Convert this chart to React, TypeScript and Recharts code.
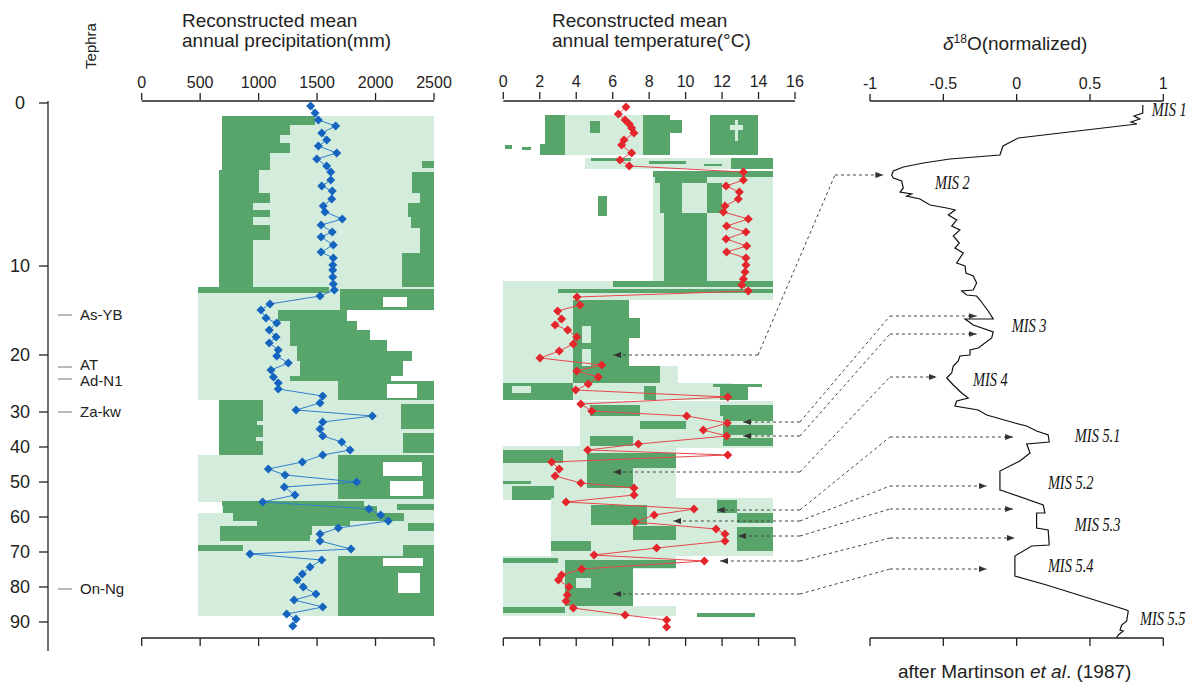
import React from "react";
import {
  ComposedChart,
  ReferenceArea,
  ReferenceLine,
  Scatter,
  XAxis,
  YAxis
} from "recharts";

// vertical axis: position down the core (arbitrary depth units), ages placed on it
const ageTickDepths = [0, 163, 252, 309, 344, 379, 414, 449, 484, 519];
const ageTickLabels = ["0", "10", "20", "30", "40", "50", "60", "70", "80", "90"];

const tephraDepths = [212, 264, 276, 309, 486];
const tephraNames = ["As-YB", "AT", "Ad-N1", "Za-kw", "On-Ng"];

const precipTicks = [0, 500, 1000, 1500, 2000, 2500];
const tempTicks = [0, 2, 4, 6, 8, 10, 12, 14, 16];
const deltaTicks = [-1, -0.5, 0, 0.5, 1];

const precipDepths = [
  3, 10, 17, 23, 30, 37, 43, 50, 56, 63, 69, 77, 83, 88, 96, 103, 109, 116, 122, 129,
  134, 142, 149, 155, 162, 167, 174, 181, 187, 193, 201, 207, 215, 220, 227, 234, 240, 247, 253, 260,
  267, 274, 280, 286, 293, 300, 307, 313, 319, 326, 333, 339, 347, 352, 359, 366, 372, 379, 384, 392,
  399, 406, 412, 418, 425, 431, 438, 446, 451, 457, 464, 471, 477, 484, 491, 497, 504, 511, 516, 523
];
const precipValues = [
  1445, 1482, 1511, 1659, 1540, 1582, 1511, 1668, 1497, 1582, 1617, 1617, 1540, 1630, 1625, 1553, 1568, 1716, 1534, 1630,
  1534, 1639, 1534, 1639, 1634, 1634, 1634, 1639, 1648, 1525, 1097, 1020, 1063, 1155, 1091, 1149, 1091, 1168, 1155, 1254,
  1106, 1126, 1168, 1168, 1548, 1525, 1320, 1973, 1548, 1525, 1548, 1711, 1782, 1548, 1374, 1083, 1226, 1839, 1220, 1311,
  1035, 1944, 2044, 2109, 1682, 1525, 1525, 1790, 926, 1540, 1440, 1374, 1331, 1382, 1491, 1303, 1548, 1240, 1320, 1292
];

const tempDepths = [
  4, 11, 17, 21, 25, 30, 37, 42, 50, 57, 63, 69, 77, 83, 89, 96, 103, 109, 116, 123,
  129, 136, 143, 149, 155, 162, 169, 176, 182, 188, 194, 202, 208, 216, 222, 227, 234, 241, 248, 255,
  262, 268, 274, 281, 287, 294, 301, 308, 313, 320, 327, 333, 341, 347, 352, 359, 366, 373, 380, 385,
  392, 399, 406, 412, 419, 426, 431, 438, 445, 452, 458, 466, 472, 477, 484, 492, 498, 505, 512, 517, 524
];
const tempValues = [
  6.73, 6.31, 6.68, 6.91, 7.04, 7.17, 6.62, 6.49, 7.04, 6.4, 6.91, 13.17, 13.17, 12.22, 12.95, 12.89, 12.16, 12.07, 13.44, 12.25,
  13.31, 12.22, 13.35, 12.25, 13.31, 13.31, 13.26, 13.17, 13.08, 13.44, 4.04, 4.21, 2.98, 3.2, 2.84, 3.53, 4.03, 3.84, 3.07, 2.01,
  5.4, 4.03, 5.21, 4.66, 3.97, 12.31, 4.25, 4.85, 10.06, 12.29, 10.97, 12.25, 7.41, 4.63, 12.31, 2.65, 3.07, 2.84, 4.25, 7.17,
  7.17, 3.44, 10.46, 8.28, 7.22, 11.67, 12.16, 12.16, 8.41, 4.98, 11.03, 4.3, 3.2, 3.02, 3.6, 3.51, 3.44, 3.84, 6.68, 8.96, 8.96
];

// stacked marine record (Martinson et al. 1987), normalized
const deltaDepths = [
  2, 10, 13, 16, 19, 21, 35, 43, 52, 56, 60, 64, 68, 72, 75, 78, 85, 89, 91, 93,
  96, 102, 105, 107, 112, 117, 123, 127, 133, 140, 145, 150, 160, 163, 170, 173, 180, 187, 188, 192,
  193, 197, 208, 216, 216, 222, 229, 235, 245, 247, 252, 253, 258, 263, 270, 275, 282, 290, 295, 298,
  303, 307, 312, 320, 323, 328, 332, 339, 341, 345, 350, 358, 368, 387, 388, 402, 410, 410, 425, 427,
  442, 443, 453, 473, 482, 507, 508, 518, 522, 527, 528, 532, 535
];
const deltaValues = [
  0.86, 0.86, 0.8, 0.84, 0.78, 0.82, 0.011, -0.093, -0.114, -0.455, -0.636, -0.773, -0.841, -0.852, -0.841, -0.784, -0.773, -0.795, -0.716, -0.75,
  -0.659, -0.591, -0.477, -0.42, -0.466, -0.409, -0.443, -0.387, -0.432, -0.391, -0.421, -0.364, -0.409, -0.352, -0.346, -0.296, -0.273, -0.296, -0.375, -0.341,
  -0.273, -0.25, -0.194, -0.16, -0.352, -0.296, -0.16, -0.17, -0.262, -0.318, -0.318, -0.387, -0.398, -0.432, -0.443, -0.477, -0.432, -0.375, -0.33, -0.409,
  -0.421, -0.262, -0.204, -0.012, 0.068, 0.136, 0.215, 0.222, 0.068, 0.079, 0.091, 0.022, -0.114, -0.114, -0.091, 0.181, 0.193, 0.136, 0.136, 0.215,
  0.222, 0.102, -0.012, -0.012, 0.204, 0.75, 0.761, 0.75, 0.716, 0.705, 0.727, 0.693, 0.682
];

const misNames = ["MIS 1", "MIS 2", "MIS 3", "MIS 4", "MIS 5.1", "MIS 5.2", "MIS 5.3", "MIS 5.4", "MIS 5.5"];
const misDepths = [7, 80, 223, 277, 333, 380, 422, 463, 516];
const misValues = [0.922, -0.557, -0.034, -0.298, 0.397, 0.213, 0.397, 0.213, 0.841];

// correlation arrows: temperature record -> marine stage
const arrowFromDepths = [252, 319, 333, 369, 407, 418, 433, 458, 491];
const arrowFromTemps = [6.03, 13.16, 13.16, 6.03, 11.7, 9.32, 12.89, 11.89, 6.03];
const arrowToDepths = [72, 213, 231, 274, 334, 383, 406, 435, 466];
const arrowToDeltas = [-0.909, -0.273, -0.273, -0.545, -0.024, -0.204, -0.024, -0.012, -0.204];
// first bend (temperature units) and second bend (delta units)
const arrowBends: [number, number][] = [
  [13.97, -1.239], [16.27, -0.864], [16.27, -0.864], [16.27, -0.864], [16.27, -0.864],
  [16.27, -0.864], [16.27, -0.864], [16.27, -0.864], [16.27, -0.864]
];

type Band = [string, number, number, number, number];

// range shading, drawn in order: L = wide range, D = likely range, W = gap
const precipBands: Band[] = [
  ["L", 13, 190, 690, 2500],
  ["D", 13, 22, 690, 1480], ["D", 22, 32, 690, 1270], ["D", 32, 40, 690, 1180], ["D", 40, 50, 690, 1270],
  ["D", 50, 67, 690, 1100], ["D", 67, 90, 660, 1000], ["D", 90, 100, 660, 1100], ["D", 100, 107, 660, 950],
  ["D", 107, 114, 660, 1100], ["D", 114, 122, 660, 950], ["D", 122, 137, 660, 1100], ["D", 137, 184, 660, 950],
  ["D", 58, 65, 2400, 2500], ["D", 69, 90, 2310, 2500], ["D", 90, 100, 2380, 2500], ["D", 100, 114, 2280, 2500],
  ["D", 114, 125, 2300, 2500], ["D", 125, 150, 2380, 2500], ["D", 150, 184, 2230, 2500],
  ["L", 184, 297, 480, 2500],
  ["D", 184, 190, 480, 1600], ["D", 186, 207, 1700, 2500], ["W", 194, 204, 2060, 2270],
  ["D", 207, 218, 1170, 1760], ["W", 207, 218, 1760, 2500],
  ["D", 218, 227, 1270, 1840], ["W", 218, 227, 1840, 2500],
  ["D", 227, 237, 1270, 1950], ["W", 227, 237, 1950, 2500],
  ["D", 237, 243, 1270, 2100], ["W", 237, 243, 2100, 2500],
  ["D", 243, 248, 1330, 2100], ["W", 243, 248, 2100, 2500],
  ["D", 248, 258, 1330, 2310], ["W", 248, 258, 2310, 2500],
  ["D", 258, 273, 1350, 2235], ["W", 258, 273, 2235, 2500],
  ["D", 273, 278, 1270, 2130], ["W", 273, 278, 2130, 2500],
  ["D", 278, 297, 1680, 2500], ["W", 281, 295, 2100, 2355],
  ["L", 297, 352, 660, 2500],
  ["D", 297, 352, 660, 1040], ["L", 318, 322, 990, 1040], ["L", 334, 338, 980, 1040],
  ["D", 301, 326, 2220, 2500], ["D", 330, 350, 2235, 2500],
  ["L", 352, 440, 480, 2500],
  ["D", 352, 396, 1680, 2500], ["W", 359, 373, 2060, 2400], ["W", 378, 393, 2120, 2410],
  ["W", 398.5, 410, 480, 690],
  ["D", 398, 403, 684, 1900], ["D", 403, 410, 698, 2010], ["D", 401, 407, 2180, 2500],
  ["D", 410, 418, 784, 2240], ["D", 418, 423, 983, 1780], ["D", 420, 428, 2280, 2500],
  ["D", 423, 432, 670, 1460], ["D", 432, 438, 670, 1440],
  ["L", 440, 513, 480, 2500],
  ["D", 442, 448, 484, 869], ["D", 442, 453, 2238, 2500], ["D", 453, 513, 1680, 2500],
  ["W", 455, 463, 2060, 2410], ["W", 470, 490, 2190, 2380]
];

const tempBands: Band[] = [
  ["L", 12, 52, 3.38, 7.68],
  ["D", 12, 52, 2.29, 3.38], ["D", 41, 52, 2.0, 3.38], ["D", 18, 30, 4.76, 5.3],
  ["D", 12, 52, 7.68, 9.14], ["D", 17, 30, 9.14, 9.79], ["D", 12, 52, 11.34, 13.99],
  ["L", 17, 38, 12.7, 12.9], ["L", 22, 27, 12.45, 13.17],
  ["D", 42, 46, 0.1, 0.5], ["D", 44, 47, 1.0, 1.5],
  ["L", 55, 66, 4.5, 14.8],
  ["D", 55, 58, 4.8, 7.0], ["D", 58, 61, 8.0, 10.0], ["D", 61, 63, 11, 12], ["D", 55, 66, 12.5, 14.8],
  ["L", 68, 184, 8.23, 14.81],
  ["D", 68, 74, 8.23, 14.8], ["D", 74, 80, 8.3, 11.2], ["D", 80, 110, 8.6, 9.8], ["D", 80, 110, 11.2, 12.0],
  ["D", 110, 184, 8.8, 11.2], ["D", 93, 113, 5.2, 5.7],
  ["L", 178, 197, 0, 14.8], ["D", 178, 184, 6, 14.8], ["D", 186, 190, 3, 14.8],
  ["L", 197, 280, 0, 3.9], ["D", 197, 280, 3.8, 6.9], ["D", 215, 235, 6.9, 7.5],
  ["L", 223, 240, 4.3, 4.8], ["L", 246, 263, 4.3, 4.8], ["D", 263, 280, 3.8, 8.6],
  ["L", 263, 280, 8.6, 9.6],
  ["D", 280, 297, 0, 3.8], ["L", 283, 290, 0.5, 1.5],
  ["L", 280, 297, 3.8, 12.6], ["D", 283, 297, 7.7, 8.4], ["D", 283, 297, 11.9, 13.4], ["D", 281, 284, 11.5, 14.2],
  ["L", 298, 313, 4.2, 14.8], ["D", 302, 313, 4.76, 7.5], ["D", 302, 313, 11.9, 14.8],
  ["L", 313, 345, 4.2, 14.8], ["D", 313, 343, 12.07, 14.8],
  ["L", 318, 322, 12.07, 14.8], ["L", 332, 335, 12.07, 14.8],
  ["D", 318, 326, 7.5, 10.0], ["D", 333, 343, 4.76, 7.13],
  ["L", 343, 397, 0, 9.5], ["D", 347, 360, 0, 3.3], ["D", 350, 365, 4.6, 9.5], ["D", 365, 385, 4.6, 7.1],
  ["D", 378, 381, 0, 1.5], ["D", 383, 397, 0.5, 2.8],
  ["L", 395, 453, 2.6, 14.8],
  ["D", 402, 422, 4.8, 7.9], ["D", 423, 437, 7.1, 9.5], ["D", 438, 448, 2.6, 4.8],
  ["D", 397, 410, 11.7, 12.8], ["D", 410, 448, 12.8, 14.8], ["L", 420, 424, 12.8, 14.8],
  ["L", 453, 466, 0, 9.5], ["D", 455, 460, 0, 3.0], ["D", 457, 465, 3.4, 9.5],
  ["L", 465, 503, 0, 3.4], ["D", 465, 503, 3.4, 7.1], ["L", 475, 485, 4.0, 4.8],
  ["L", 503, 513, 0, 9.5], ["D", 504, 510, 0, 3.4], ["D", 510, 514, 10.6, 13.8]
];

const FONT = '"Liberation Sans", Arial, sans-serif';
const SERIF = '"Liberation Serif", "Times New Roman", serif';
const INK = "#222";
const DARK_GREEN = "#58a56b";
const LIGHT_GREEN = "#d4ecdb";
const BAND_FILL: Record<string, string> = { L: LIGHT_GREEN, D: DARK_GREEN, W: "#ffffff" };

const WIDTH = 1199;
const HEIGHT = 686;
const PLOT_LEFT = 48;
const PLOT_RIGHT = 1199;
const PLOT_TOP = 101;
const PLOT_BOTTOM = 638;
const DEPTH_DOMAIN: [number, number] = [-2, 535];
const BOTTOM_TICK = 8;
const AXIS_RUN_OUT = 13;
// the three top axes are stacked 1px each (a zero-size axis is not drawn)
const TOP_AXIS_STACK = 3;

type Panel = { id: string; px: [number, number]; range: [number, number]; ticks: number[] };

// px: where the two ends of each panel's axis sit across the figure
const PANELS: Record<string, Panel> = {
  precip: { id: "precip", px: [141.7, 434], range: [0, 2500], ticks: precipTicks },
  temp: { id: "temp", px: [503.3, 795], range: [0, 16], ticks: tempTicks },
  delta: { id: "delta", px: [870, 1163.3], range: [-1, 1], ticks: deltaTicks }
};

const toPx = (p: Panel, v: number) =>
  p.px[0] + ((v - p.range[0]) / (p.range[1] - p.range[0])) * (p.px[1] - p.px[0]);
const fromPx = (p: Panel, x: number) =>
  p.range[0] + ((x - p.px[0]) / (p.px[1] - p.px[0])) * (p.range[1] - p.range[0]);
// every panel axis spans the whole plot, so nothing drawn beside a panel is clipped
const fullDomain = (p: Panel): [number, number] => [fromPx(p, PLOT_LEFT), fromPx(p, PLOT_RIGHT)];

const precipData = precipDepths.map((depth, i) => ({ depth, value: precipValues[i] }));
const tempData = tempDepths.map((depth, i) => ({ depth, value: tempValues[i] }));
const deltaData = deltaDepths.map((depth, i) => ({ depth, value: deltaValues[i] }));
const misData = misDepths.map((depth, i) => ({ depth, value: misValues[i], name: misNames[i] }));

const diamond = (color: string, r: number) => (props: any) => {
  const { cx, cy } = props;
  if (cx == null || cy == null) return <g />;
  return <path d={`M${cx},${cy - r}L${cx + r},${cy}L${cx},${cy + r}L${cx - r},${cy}Z`} fill={color} />;
};

const noMarker = () => <g />;

// narrow italic serif, like the stage names of the original stack
const misLabel = (props: any) => {
  const { cx, cy, payload } = props;
  if (cx == null || cy == null) return <g />;
  return (
    <text
      transform={`translate(${cx},${cy}) scale(0.8,1)`}
      dy="0.36em"
      fontFamily={SERIF}
      fontStyle="italic"
      fontSize={18}
      fill="#111"
    >
      {payload.name}
    </text>
  );
};

const ageTick = (props: any) => {
  const { x, y, payload } = props;
  const i = ageTickDepths.indexOf(payload.value);
  return (
    <text x={x} y={y} dy="0.35em" textAnchor="middle" fontFamily={FONT} fontSize={18} fill={INK}>
      {ageTickLabels[i]}
    </text>
  );
};

// AT and Ad-N1 sit almost on top of each other; spread their names a little
const tephraNudge: Record<string, number> = { AT: -2, "Ad-N1": 2 };

const tephraTick = (props: any) => {
  const { y, payload } = props;
  const i = tephraDepths.indexOf(payload.value);
  const name = tephraNames[i];
  const x = PLOT_LEFT;
  return (
    <g>
      <line x1={x + 10} x2={x + 24} y1={y} y2={y} stroke="#777" strokeWidth={1} />
      <text x={x + 32} y={y + (tephraNudge[name] || 0)} dy="0.35em" fontFamily={FONT} fontSize={15} fill={INK}>
        {name}
      </text>
    </g>
  );
};

const axisTickStyle = { fill: INK, fontSize: 16, fontFamily: FONT };
const dashStyle = { stroke: "#444", strokeWidth: 1, strokeDasharray: "3 3" };
const axisStroke = { stroke: INK, strokeWidth: 1.3 };

export default function App() {
  const panels = [PANELS.precip, PANELS.temp, PANELS.delta];
  const bandSets: [Panel, Band[]][] = [
    [PANELS.precip, precipBands],
    [PANELS.temp, tempBands]
  ];

  return (
    <div style={{ position: "absolute", left: 0, top: 0, width: WIDTH, height: HEIGHT, fontFamily: FONT, color: INK }}>
      <svg width={0} height={0} style={{ position: "absolute" }}>
        <defs>
          <marker id="arrowHead" viewBox="0 0 8 6" refX={8} refY={3} markerWidth={8} markerHeight={6}
            markerUnits="userSpaceOnUse" orient="auto">
            <path d="M0,0L8,3L0,6Z" fill="#333" />
          </marker>
        </defs>
      </svg>

      <ComposedChart
        width={WIDTH}
        height={HEIGHT}
        margin={{
          top: PLOT_TOP - TOP_AXIS_STACK,
          right: WIDTH - PLOT_RIGHT,
          bottom: HEIGHT - PLOT_BOTTOM,
          left: 0
        }}
      >
        {panels.map((p) => (
          <XAxis
            key={`${p.id}-top`}
            xAxisId={p.id}
            dataKey="value"
            type="number"
            orientation="top"
            height={1}
            domain={fullDomain(p)}
            allowDataOverflow
            ticks={p.ticks}
            interval={0}
            axisLine={false}
            tickSize={7}
            tickMargin={5}
            tickLine={axisStroke}
            tick={axisTickStyle}
          />
        ))}
        <YAxis
          yAxisId="depth"
          dataKey="depth"
          type="number"
          domain={DEPTH_DOMAIN}
          reversed
          allowDataOverflow
          ticks={ageTickDepths}
          interval={0}
          width={PLOT_LEFT}
          tickSize={9}
          tickMargin={19}
          axisLine={axisStroke}
          tickLine={axisStroke}
          tick={ageTick}
        />
        <YAxis
          yAxisId="tephra"
          type="number"
          domain={DEPTH_DOMAIN}
          reversed
          allowDataOverflow
          ticks={tephraDepths}
          interval={0}
          width={1}
          mirror
          axisLine={false}
          tickLine={false}
          tickSize={0}
          tickMargin={0}
          tick={tephraTick}
        />

        {bandSets.map(([p, bands]) =>
          bands.map(([kind, d1, d2, lo, hi], i) => (
            <ReferenceArea
              key={`${p.id}-band-${i}`}
              xAxisId={p.id}
              yAxisId="depth"
              x1={lo}
              x2={hi}
              y1={d1}
              y2={d2}
              ifOverflow="visible"
              fill={BAND_FILL[kind]}
              fillOpacity={1}
              stroke="none"
              shapeRendering="crispEdges"
            />
          ))
        )}

        {/* axis lines of each panel, top and bottom, and the bottom tick marks */}
        {panels.map((p) => (
          <ReferenceLine
            key={`${p.id}-topline`}
            xAxisId={p.id}
            yAxisId="depth"
            ifOverflow="visible"
            segment={[{ x: p.range[0], y: DEPTH_DOMAIN[0] }, { x: p.range[1], y: DEPTH_DOMAIN[0] }]}
            {...axisStroke}
          />
        ))}
        {panels.map((p) => (
          <ReferenceLine
            key={`${p.id}-bottomline`}
            xAxisId={p.id}
            yAxisId="depth"
            ifOverflow="visible"
            segment={[{ x: p.range[0], y: DEPTH_DOMAIN[1] }, { x: p.range[1], y: DEPTH_DOMAIN[1] }]}
            {...axisStroke}
          />
        ))}
        {panels.map((p) =>
          p.ticks.map((t) => (
            <ReferenceLine
              key={`${p.id}-btick-${t}`}
              xAxisId={p.id}
              yAxisId="depth"
              ifOverflow="visible"
              segment={[{ x: t, y: DEPTH_DOMAIN[1] }, { x: t, y: DEPTH_DOMAIN[1] + BOTTOM_TICK }]}
              {...axisStroke}
            />
          ))
        )}
        <ReferenceLine
          xAxisId="precip"
          yAxisId="depth"
          ifOverflow="visible"
          segment={[
            { x: fullDomain(PANELS.precip)[0], y: DEPTH_DOMAIN[1] },
            { x: fullDomain(PANELS.precip)[0], y: DEPTH_DOMAIN[1] + AXIS_RUN_OUT }
          ]}
          {...axisStroke}
        />

        {arrowFromDepths.map((d0, i) => {
          const d1 = arrowToDepths[i];
          const [bendTemp, bendDelta] = arrowBends[i];
          const bendTempAsDelta = fromPx(PANELS.delta, toPx(PANELS.temp, bendTemp));
          return [
            <ReferenceLine
              key={`arrow-a-${i}`}
              xAxisId="temp"
              yAxisId="depth"
              ifOverflow="visible"
              segment={[{ x: bendTemp, y: d0 }, { x: arrowFromTemps[i], y: d0 }]}
              {...dashStyle}
              markerEnd="url(#arrowHead)"
            />,
            <ReferenceLine
              key={`arrow-b-${i}`}
              xAxisId="delta"
              yAxisId="depth"
              ifOverflow="visible"
              segment={[{ x: bendTempAsDelta, y: d0 }, { x: bendDelta, y: d1 }]}
              {...dashStyle}
            />,
            <ReferenceLine
              key={`arrow-c-${i}`}
              xAxisId="delta"
              yAxisId="depth"
              ifOverflow="visible"
              segment={[{ x: bendDelta, y: d1 }, { x: arrowToDeltas[i], y: d1 }]}
              {...dashStyle}
              markerEnd="url(#arrowHead)"
            />
          ];
        })}

        <Scatter
          data={precipData}
          xAxisId="precip"
          yAxisId="depth"
          line={{ stroke: "#2f7fcf", strokeWidth: 1 }}
          shape={diamond("#1565c0", 4.5)}
          isAnimationActive={false}
        />
        <Scatter
          data={tempData}
          xAxisId="temp"
          yAxisId="depth"
          line={{ stroke: "#e8474a", strokeWidth: 1 }}
          shape={diamond("#e3262b", 4.5)}
          isAnimationActive={false}
        />
        <Scatter
          data={deltaData}
          xAxisId="delta"
          yAxisId="depth"
          line={{ stroke: "#111", strokeWidth: 1.2 }}
          shape={noMarker}
          isAnimationActive={false}
        />
        <Scatter
          data={misData}
          xAxisId="delta"
          yAxisId="depth"
          shape={misLabel}
          isAnimationActive={false}
        />
      </ComposedChart>

      <div style={{ position: "absolute", left: 182, top: 11, fontSize: 19, lineHeight: "20px", whiteSpace: "nowrap" }}>
        Reconstructed mean
        <br />
        annual precipitation(mm)
      </div>
      <div style={{ position: "absolute", left: 552, top: 11, fontSize: 19, lineHeight: "20px", whiteSpace: "nowrap" }}>
        Reconstructed mean
        <br />
        annual temperature(°C)
      </div>
      <div style={{ position: "absolute", left: 943, top: 28, fontSize: 19, lineHeight: "22px", whiteSpace: "nowrap" }}>
        <i>δ</i>
        <sup style={{ fontSize: 12 }}>18</sup>O(normalized)
      </div>
      <div
        style={{
          position: "absolute",
          left: 90,
          top: 46,
          fontSize: 15,
          whiteSpace: "nowrap",
          transform: "translate(-50%, -50%) rotate(-90deg)"
        }}
      >
        Tephra
      </div>
      <div style={{ position: "absolute", left: 898, top: 661, fontSize: 19, lineHeight: "22px", whiteSpace: "nowrap" }}>
        after Martinson <i>et al</i>. (1987)
      </div>
    </div>
  );
}
